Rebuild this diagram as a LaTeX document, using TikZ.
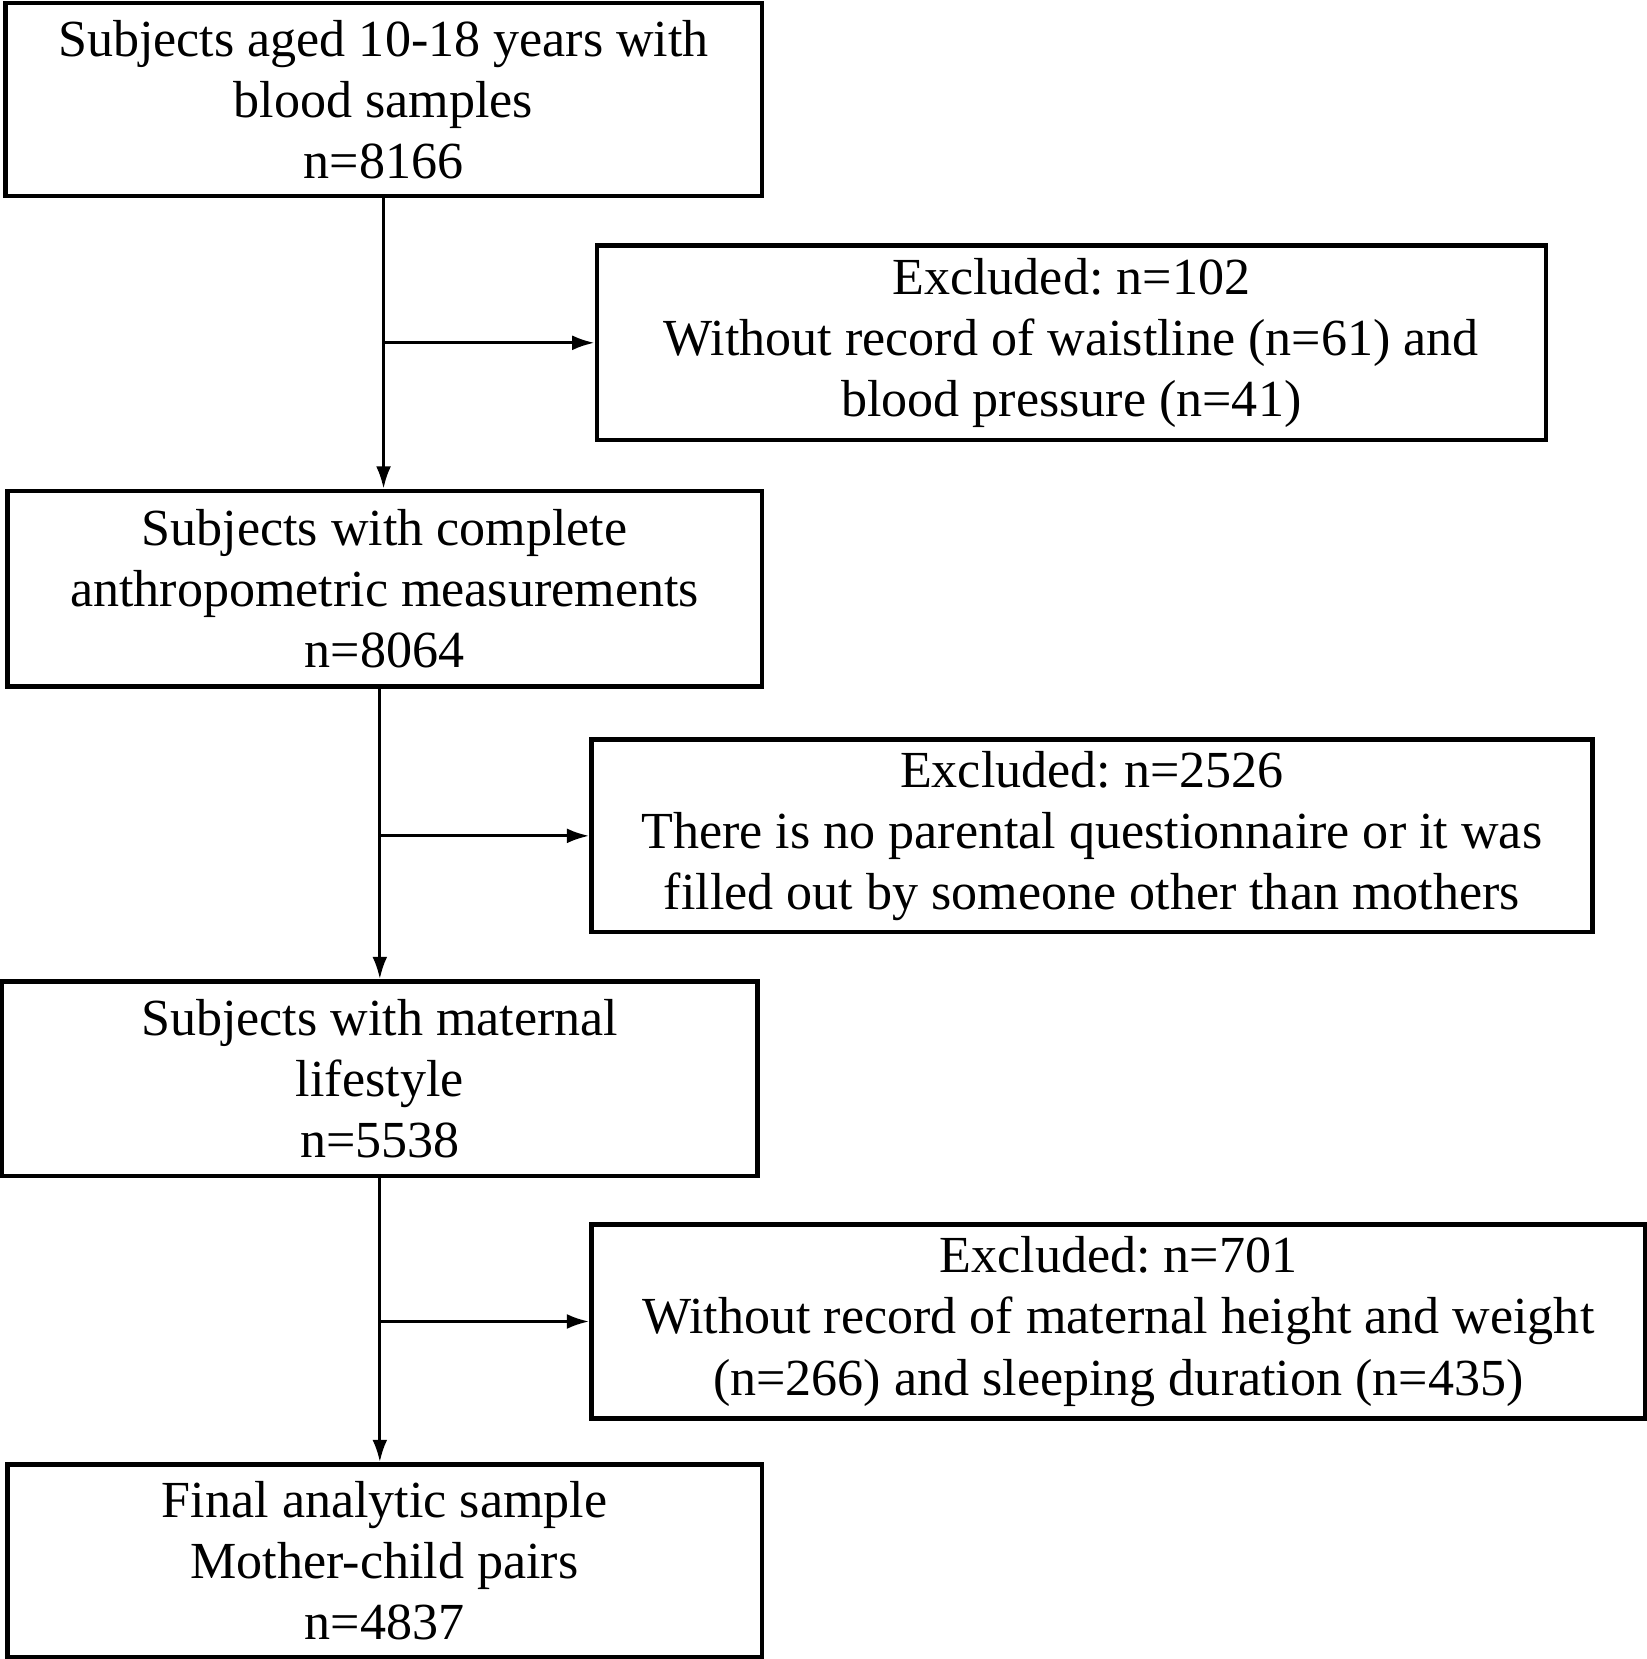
\documentclass[tikz,border=0pt]{standalone}
\usepackage{fontspec}
\setmainfont{Liberation Serif}
\frenchspacing
\usetikzlibrary{arrows.meta}
\begin{document}
\begin{tikzpicture}[
    box/.style={draw,line width=1.2pt,fill=white,inner sep=0pt,align=center,font=\fontsize{14}{16.45}\selectfont},
    flow/.style={line width=0.8pt,-{Latex[length=6pt,width=4pt]}}]
    \useasboundingbox (0,0) rectangle (15.56,-15.68);
    \draw (3.625,-0.94) node[box,minimum width=7.15cm,minimum height=1.82cm] (s1) {Subjects aged 10-18 years with\\blood samples\\n=8166};
    \draw (10.125,-3.24) node[box,minimum width=8.97cm,minimum height=1.84cm] (e1) {Excluded: n=102\\Without record of waistline (n=61) and\\blood pressure (n=41)};
    \draw (3.635,-5.565) node[box,minimum width=7.13cm,minimum height=1.85cm] (s2) {Subjects with complete\\anthropometric measurements\\n=8064};
    \draw (10.32,-7.9) node[box,minimum width=9.46cm,minimum height=1.82cm] (e2) {Excluded: n=2526\\There is no parental questionnaire or it was\\filled out by someone other than mothers};
    \draw (3.59,-10.195) node[box,minimum width=7.14cm,minimum height=1.84cm] (s3) {Subjects with maternal\\lifestyle\\n=5538};
    \draw (10.57,-12.49) node[box,minimum width=9.96cm,minimum height=1.83cm] (e3) {Excluded: n=701\\Without record of maternal height and weight\\(n=266) and sleeping duration (n=435)};
    \draw (3.635,-14.75) node[box,minimum width=7.13cm,minimum height=1.82cm] (s4) {Final analytic sample\\Mother-child pairs\\n=4837};
    % main flow
    \draw[flow] (s1.south) -- (s1.south |- s2.north);
    \draw[flow] (s3.north |- s2.south) -- (s3.north);
    \draw[flow] (s3.south) -- (s3.south |- s4.north);
    % exclusions
    \draw[flow] (s1.south |- e1.west) -- (e1.west);
    \draw[flow] (s3.north |- e2.west) -- (e2.west);
    \draw[flow] (s3.south |- e3.west) -- (e3.west);
\end{tikzpicture}
\end{document}
